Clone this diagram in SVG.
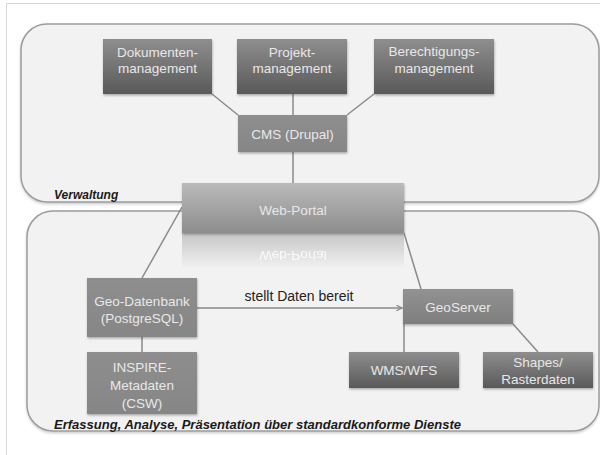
<svg xmlns="http://www.w3.org/2000/svg" width="600" height="455" viewBox="0 0 600 455">
<style>
.lbl{font-family:"Liberation Sans",Arial,sans-serif;font-size:13.5px;fill:#e8e8e8;text-anchor:middle}
.rlbl{font-family:"Liberation Sans",Arial,sans-serif;font-size:13.5px;fill:#ffffff;text-anchor:middle}
.cap{font-family:"Liberation Sans",Arial,sans-serif;font-size:12px;font-weight:bold;font-style:italic;fill:#1a1a1a}
.edge{stroke:#8a8a8a;stroke-width:1.5;fill:none}
.cont{fill:#f2f2f2;stroke:#9c9c9c;stroke-width:1.5}
</style>
<defs>
<linearGradient id="dark" x1="0" y1="0" x2="0" y2="1"><stop offset="0" stop-color="#8e8e8e"/><stop offset="1" stop-color="#595959"/></linearGradient>
<linearGradient id="mid" x1="0" y1="0" x2="0" y2="1"><stop offset="0" stop-color="#929292"/><stop offset="1" stop-color="#7e7e7e"/></linearGradient>
<linearGradient id="flat" x1="0" y1="0" x2="0" y2="1"><stop offset="0" stop-color="#8e8e8e"/><stop offset="1" stop-color="#868686"/></linearGradient>
<linearGradient id="portal" x1="0" y1="0" x2="0" y2="1"><stop offset="0" stop-color="#bababa"/><stop offset="1" stop-color="#8d8d8d"/></linearGradient>
<linearGradient id="refl" x1="0" y1="0" x2="0" y2="1"><stop offset="0" stop-color="#c6c6c6"/><stop offset="1" stop-color="#f2f2f2"/></linearGradient>
<filter id="sh" x="-10%" y="-10%" width="120%" height="130%"><feDropShadow dx="0.5" dy="1.5" stdDeviation="1" flood-color="#000" flood-opacity="0.3"/></filter>
<filter id="csh" x="-5%" y="-5%" width="110%" height="115%"><feDropShadow dx="0" dy="1.5" stdDeviation="1.2" flood-color="#000" flood-opacity="0.2"/></filter>
<marker id="arr" viewBox="0 0 10 10" refX="9" refY="5" markerWidth="7" markerHeight="7" markerUnits="userSpaceOnUse" orient="auto"><path d="M1,1 L9,5 L1,9" fill="none" stroke="#8a8a8a" stroke-width="1.8"/></marker>
</defs>
<rect width="600" height="455" fill="#fff"/>
<path d="M6.5,455 V3.5 H600" fill="none" stroke="#d9d9d9" stroke-width="1"/>
<g id="verwaltung">
<rect class="cont" x="21" y="24" width="578" height="178" rx="26" filter="url(#csh)"/>
<text class="cap" x="54" y="199">Verwaltung</text>
</g>
<g id="erfassung">
<rect class="cont" x="27" y="211" width="572" height="220" rx="26" filter="url(#csh)"/>
<text class="cap" x="54" y="429" textLength="407" lengthAdjust="spacingAndGlyphs">Erfassung, Analyse, Präsentation über standardkonforme Dienste</text>
</g>
<g id="connectors">
<path class="edge" d="M212,94 L238,115"/>
<path class="edge" d="M293,94 V115"/>
<path class="edge" d="M374,94 L347,115"/>
<path class="edge" d="M293,152 V183"/>
<path class="edge" d="M142,278 L182,207"/>
<path class="edge" d="M404,233 L421,289"/>
<path class="edge" d="M142,337 V352"/>
<path class="edge" d="M404,324 V352"/>
<path class="edge" d="M513,324 L538,352"/>
<path class="edge" d="M197,308 H402" marker-end="url(#arr)"/>
<text x="299" y="301" font-family="'Liberation Sans',Arial,sans-serif" font-size="14" fill="#222" text-anchor="middle">stellt Daten bereit</text>
</g>
<g id="dokumentenmanagement">
<rect x="103" y="39" width="109" height="55" fill="url(#dark)" filter="url(#sh)"/>
<text class="lbl" x="157.5" y="57">Dokumenten-</text>
<text class="lbl" x="157.5" y="73">management</text>
</g>
<g id="projektmanagement">
<rect x="237" y="39" width="110" height="55" fill="url(#dark)" filter="url(#sh)"/>
<text class="lbl" x="292" y="57">Projekt-</text>
<text class="lbl" x="292" y="73">management</text>
</g>
<g id="berechtigungsmanagement">
<rect x="374" y="39" width="120" height="55" fill="url(#dark)" filter="url(#sh)"/>
<text class="lbl" x="434" y="56">Berechtigungs-</text>
<text class="lbl" x="434" y="73">management</text>
</g>
<g id="cms">
<rect x="238" y="115" width="109" height="37" fill="url(#flat)" filter="url(#sh)"/>
<text class="lbl" x="292.5" y="139">CMS (Drupal)</text>
</g>
<g id="webportal">
<rect x="182" y="233" width="222" height="36" fill="url(#refl)"/>
<text class="rlbl" x="293" y="215" transform="matrix(1 0 0 -1 0 466)" opacity="0.85">Web-Portal</text>
<rect x="182" y="183" width="222" height="50" fill="url(#portal)" filter="url(#sh)"/>
<text class="lbl" x="293" y="215">Web-Portal</text>
</g>
<g id="geodatenbank">
<rect x="87" y="278" width="110" height="59" fill="url(#flat)" filter="url(#sh)"/>
<text class="lbl" x="142" y="306">Geo-Datenbank</text>
<text class="lbl" x="142" y="323">(PostgreSQL)</text>
</g>
<g id="inspire">
<rect x="87" y="352" width="110" height="62" fill="url(#flat)" filter="url(#sh)"/>
<text class="lbl" x="142" y="372">INSPIRE-</text>
<text class="lbl" x="142" y="390">Metadaten</text>
<text class="lbl" x="142" y="408">(CSW)</text>
</g>
<g id="geoserver">
<rect x="403" y="289" width="110" height="35" fill="url(#mid)" filter="url(#sh)"/>
<text class="lbl" x="458" y="312">GeoServer</text>
</g>
<g id="wmswfs">
<rect x="349" y="352" width="110" height="36" fill="url(#dark)" filter="url(#sh)"/>
<text class="lbl" x="404" y="375">WMS/WFS</text>
</g>
<g id="shapes">
<rect x="483" y="352" width="110" height="36" fill="url(#dark)" filter="url(#sh)"/>
<text class="lbl" x="538" y="367">Shapes/</text>
<text class="lbl" x="538" y="384">Rasterdaten</text>
</g>
</svg>
